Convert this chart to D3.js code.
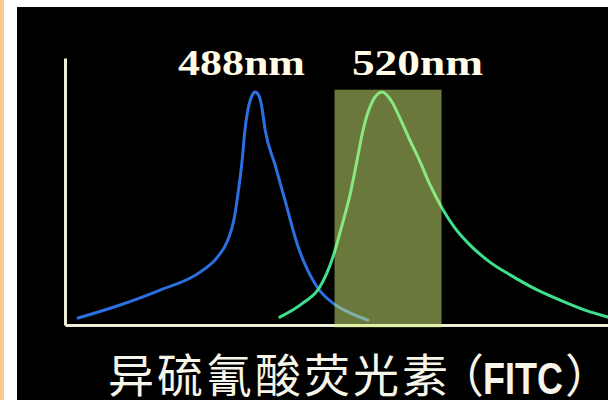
<!DOCTYPE html>
<html>
<head>
<meta charset="utf-8">
<script src="https://cdn.jsdelivr.net/npm/d3@7"></script>
<style>
  html, body { margin: 0; padding: 0; background: #fff; }
  #graphicContainer { width: 608px; height: 400px; position: relative; overflow: hidden; }
</style>
</head>
<body>
<div id="graphicContainer"></div>
<script>
// excitation spectrum (blue), wavelength nm / relative intensity
var excitationNm = [443.3, 453.9, 464.0, 474.1, 478.4, 481.1, 482.6, 483.6, 484.7, 485.4, 486.4, 487.2, 488.0, 488.9, 489.6, 490.5, 493.0, 495.5, 498.5, 503.6, 507.6, 511.9, 516.4]
var excitationI = [0.03, 0.086, 0.15, 0.227, 0.29, 0.365, 0.45, 0.558, 0.708, 0.837, 0.944, 0.985, 1.0, 0.985, 0.94, 0.837, 0.687, 0.536, 0.352, 0.163, 0.094, 0.052, 0.021]

// emission spectrum (green)
var emissionNm = [494.2, 500.0, 504.3, 507.6, 509.9, 511.9, 513.7, 515.2, 517.5, 520.0, 522.5, 524.5, 527.0, 529.6, 532.1, 535.4, 538.4, 542.2, 547.2, 552.3, 558.6, 564.9, 571.2, 577.0]
var emissionI = [0.034, 0.094, 0.163, 0.292, 0.429, 0.558, 0.708, 0.837, 0.957, 1.0, 0.957, 0.888, 0.794, 0.700, 0.601, 0.494, 0.416, 0.343, 0.270, 0.215, 0.155, 0.107, 0.064, 0.034]

// detection filter band
var filterBand = [508, 535]

var peakLabels = ["488nm", "520nm"]
var peakLabelStart = [468.5, 512.4]
var title = "异硫氰酸荧光素"

var svg = d3.select("#graphicContainer").append("svg")
  .attr("width", 608)
  .attr("height", 400)

// slide frame
svg.append("rect").attr("x", 0).attr("y", 0).attr("width", 608).attr("height", 400).attr("fill", "#fff")
svg.append("rect").attr("x", 0).attr("y", 0).attr("width", 4).attr("height", 400).attr("fill", "#f8ca8f")
svg.append("rect").attr("x", 17).attr("y", 7).attr("width", 591).attr("height", 393).attr("fill", "#000")

var x = d3.scaleLinear().domain([440, 577]).range([65, 608])
var y = d3.scaleLinear().domain([0, 1]).range([325, 92])

var axisColor = "#f1eddb"

var xAxis = svg.append("g")
  .attr("transform", "translate(0,325)")
  .call(d3.axisBottom(x).tickValues([]).tickSizeOuter(0))
xAxis.select(".domain").attr("stroke", axisColor).attr("stroke-width", 3)

var yAxis = svg.append("g")
  .attr("transform", "translate(65,0)")
  .call(d3.axisLeft(y.copy().domain([0, 1.15]).range([325, 58])).tickValues([]).tickSizeOuter(0))
yAxis.select(".domain").attr("stroke", axisColor).attr("stroke-width", 3)

var line = d3.line()
  .x(function (d) { return x(d[0]) })
  .y(function (d) { return y(d[1]) })
  .curve(d3.curveMonotoneX)

svg.append("path")
  .datum(d3.zip(excitationNm, excitationI))
  .attr("d", line)
  .attr("fill", "none")
  .attr("stroke", "#2b6fe0")
  .attr("stroke-width", 3)
  .attr("stroke-linecap", "round")

svg.append("path")
  .datum(d3.zip(emissionNm, emissionI))
  .attr("d", line)
  .attr("fill", "none")
  .attr("stroke", "#3fe08c")
  .attr("stroke-width", 3)
  .attr("stroke-linecap", "round")

svg.append("rect")
  .attr("x", x(filterBand[0]))
  .attr("y", y(1.01))
  .attr("width", x(filterBand[1]) - x(filterBand[0]))
  .attr("height", y(-0.01) - y(1.01))
  .attr("fill", "rgb(212, 242, 118)")
  .attr("opacity", 0.5)

svg.selectAll(".peakLabel")
  .data(peakLabels)
  .enter().append("text")
  .attr("class", "peakLabel")
  .attr("x", function (d, i) { return x(peakLabelStart[i]) })
  .attr("y", 75)
  .attr("textLength", function (d, i) { return i ? 131 : 127 })
  .attr("lengthAdjust", "spacingAndGlyphs")
  .attr("fill", "#fffbe6")
  .style("font-family", "'Liberation Serif', 'Times New Roman', serif")
  .style("font-weight", "bold")
  .style("font-size", "35px")
  .text(function (d) { return d })

var titleColor = "#f7f5ea"
var cjkFont = "'Noto Sans CJK SC', sans-serif"

svg.append("text")
  .attr("x", 108)
  .attr("y", 392)
  .attr("fill", titleColor)
  .style("font-family", cjkFont)
  .style("font-size", "46px")
  .style("letter-spacing", "3px")
  .text(title)

svg.append("text")
  .attr("x", 438)
  .attr("y", 392)
  .attr("fill", titleColor)
  .style("font-family", cjkFont)
  .style("font-size", "46px")
  .text("（")

svg.append("text")
  .attr("x", 483)
  .attr("y", 394)
  .attr("textLength", 80)
  .attr("lengthAdjust", "spacingAndGlyphs")
  .attr("fill", titleColor)
  .style("font-family", "'Liberation Sans', Arial, sans-serif")
  .style("font-weight", "bold")
  .style("font-size", "45px")
  .text("FITC")

svg.append("text")
  .attr("x", 565)
  .attr("y", 392)
  .attr("fill", titleColor)
  .style("font-family", cjkFont)
  .style("font-size", "46px")
  .text("）")
</script>
</body>
</html>
